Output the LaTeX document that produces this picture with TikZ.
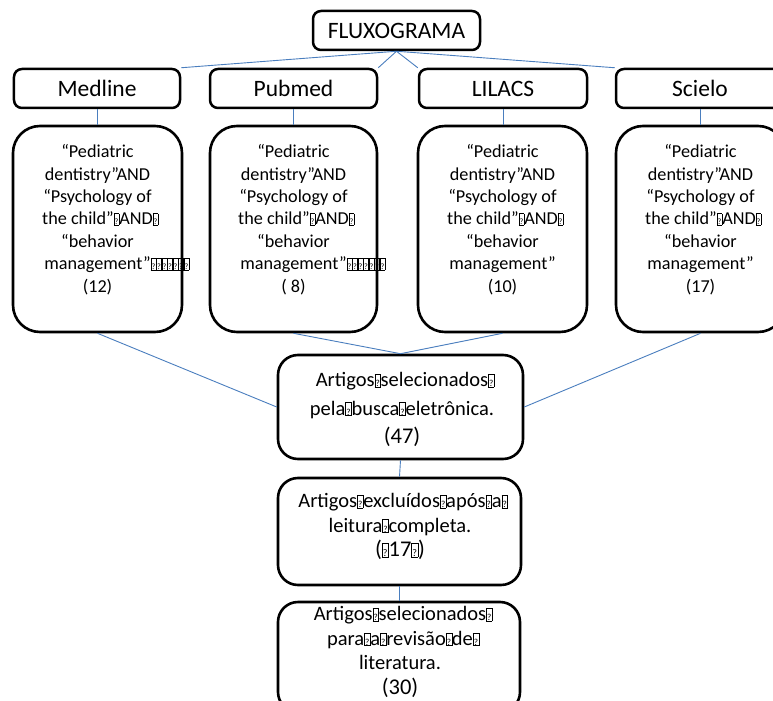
\documentclass[tikz,border=0pt]{standalone}
\usepackage{fontspec}
\usepackage{graphicx}
\setmainfont{Carlito}
\definecolor{linkblue}{RGB}{74,126,190}
\newcommand{\tf}{{\setlength\fboxsep{0pt}\setlength\fboxrule{0.4pt}\fbox{\makebox[0.26em]{\rule{0pt}{0.6em}\scalebox{0.45}{?}}}}}
\newcommand{\tfs}[1]{\rlap{#1}}
\tikzset{
  x=1bp, y=-1bp,
  hdr/.style={draw, line width=2.5bp, rounded corners=8bp, minimum height=39bp, inner sep=0pt,
    font=\fontsize{23.5bp}{28bp}\selectfont},
  qbox/.style={draw, line width=2.6bp, rounded corners=27bp, minimum width=169bp, minimum height=206bp, inner sep=0pt},
  rbox/.style={draw, line width=2.6bp, rounded corners=20bp, inner sep=0pt},
  qtxt/.style={align=center, inner sep=0pt, font=\fontsize{18.2bp}{22.4bp}\selectfont},
  ltxt/.style={align=center, inner sep=0pt, font=\fontsize{20.5bp}{24.5bp}\selectfont},
  link/.style={draw=linkblue, line width=0.9bp},
}
\newcommand{\bignum}[1]{{\fontsize{22.5bp}{26bp}\selectfont #1}}
\begin{document}
\begin{tikzpicture}
\useasboundingbox (0,0) rectangle (773,701);
\clip (0,0) rectangle (773,701);
% header boxes
\node[hdr, minimum width=167bp] (flux) at (396.5,30.5) {FLUXOGRAMA};
\node[hdr, minimum width=166bp] (med) at (97,88.5) {Medline};
\node[hdr, minimum width=167bp] (pub) at (293.5,88.5) {Pubmed};
\node[hdr, minimum width=168bp] (lil) at (503,88.5) {LILACS};
\node[hdr, minimum width=168bp] (sci) at (700,88.5) {Scielo};
% query boxes
\node[qbox] (q1) at (97.5,229) {};
\node[qbox, minimum width=167bp] (q2) at (293.5,229) {};
\node[qbox] (q3) at (502.5,229) {};
\node[qbox] (q4) at (700.5,229) {};
\node[qtxt] (t1) at (97.5,219.5) {“Pediatric\\dentistry”AND\\“Psychology of\\the child”\tf AND\tfs{\tf}\\“behavior\\management”\tfs{\tf\tf\tf\tf\tf\tf\tf}\\(12)};
\node[qtxt] (t2) at (293.5,219.5) {“Pediatric\\dentistry”AND\\“Psychology of\\the child”\tf AND\tfs{\tf}\\“behavior\\management”\tfs{\tf\tf\tf\tf\tf\tf\tf}\\( 8)};
\node[qtxt] (t3) at (502.5,219.5) {“Pediatric\\dentistry”AND\\“Psychology of\\the child”\tf AND\tfs{\tf}\\“behavior\\management”\\(10)};
\node[qtxt] (t4) at (700.5,219.5) {“Pediatric\\dentistry”AND\\“Psychology of\\the child”\tf AND\tfs{\tf}\\“behavior\\management”\\(17)};
% lower boxes
\node[rbox, minimum width=245bp, minimum height=104bp] (m1) at (400.5,407) {};
\node[rbox, minimum width=243bp, minimum height=107bp] (m2) at (399.5,531.5) {};
\node[rbox, minimum width=242bp, minimum height=110bp] (m3) at (399,657) {};
\node[ltxt, font=\fontsize{20.5bp}{28.5bp}\selectfont] (u1) at (402,409.5) {Artigos\tf selecionados\tfs{\tf}\\pela\tf busca\tf eletrônica.\\\bignum{(47)}};
\node[ltxt] (u2) at (400,526.5) {Artigos\tf excluídos\tf após\tf a\tfs{\tf}\\leitura\tf completa.\\\bignum{(\tf 17\tf)}};
\node[ltxt] (u3) at (400,652) {Artigos\tf selecionados\tfs{\tf}\\para\tf a\tf revisão\tf de\tfs{\tf}\\literatura.\\\bignum{(30)}};
% connectors
\draw[link] (flux.south) -- (med.north east);
\draw[link] (flux.south) -- (pub.north east);
\draw[link] (flux.south) -- (lil.north west);
\draw[link] (flux.south) -- (sci.north west);
\draw[link] (med.south) -- (med.south |- q1.north);
\draw[link] (pub.south) -- (pub.south |- q2.north);
\draw[link] (lil.south) -- (lil.south |- q3.north);
\draw[link] (sci.south) -- (sci.south |- q4.north);
\draw[link] (q1.south) -- (m1.west);
\draw[link] (q2.south) -- (m1.north);
\draw[link] (q3.south) -- (m1.north);
\draw[link] (q4.south) -- (m1.east);
\draw[link] (m1.south) -- (m2.north);
\draw[link] (m2.south -| m3.north) -- (m3.north);
\end{tikzpicture}
\end{document}
